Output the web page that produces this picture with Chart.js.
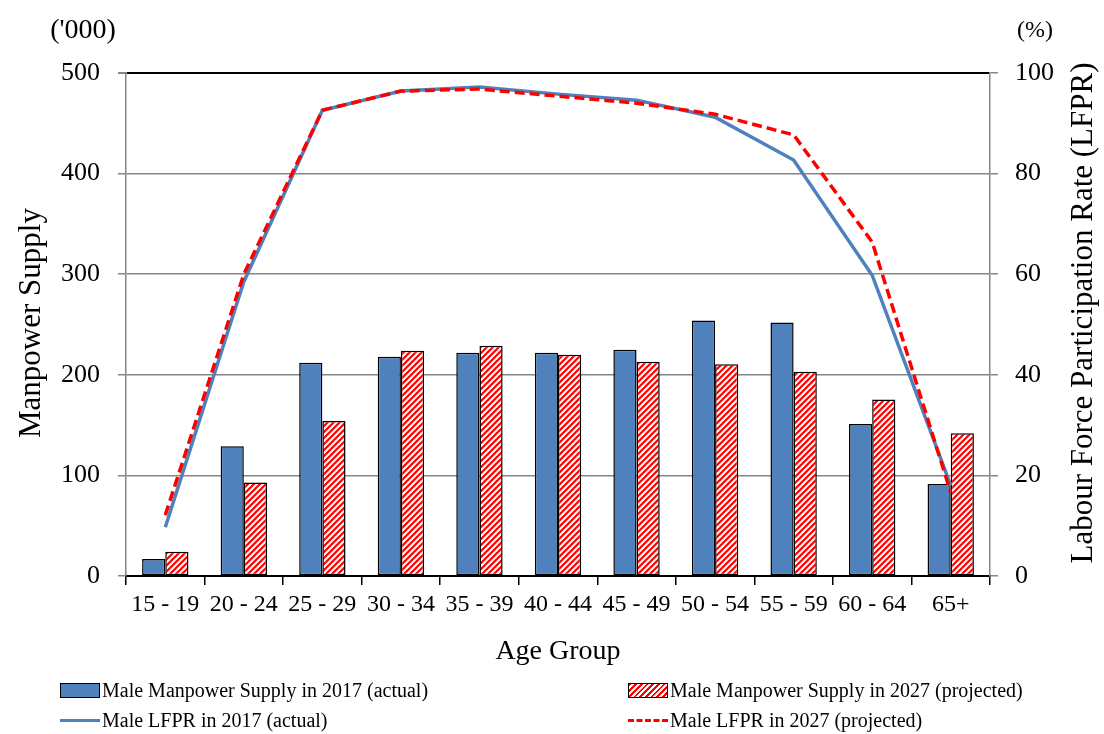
<!DOCTYPE html>
<html>
<head>
<meta charset="utf-8">
<script src="https://cdn.jsdelivr.net/npm/chart.js@4.4.1/dist/chart.umd.min.js"></script>
<style>
  body { margin: 0; background: #fff; }
  #wrap { position: relative; width: 1104px; height: 734px; }
  .leg { position: absolute; display: flex; align-items: center; font: 20px "Liberation Serif", "Times New Roman", serif; color: #000; white-space: nowrap; }
  .sym { width: 40px; margin-right: 2px; box-sizing: border-box; }
</style>
</head>
<body>
<div id="wrap">
  <canvas id="chartSupply" width="1104" height="734"></canvas>
</div>
<script>
const ageGroups = ['15 - 19', '20 - 24', '25 - 29', '30 - 34', '35 - 39', '40 - 44', '45 - 49', '50 - 54', '55 - 59', '60 - 64', '65+'];
const supply2017 = [17, 129, 212, 218, 222, 222, 225, 254, 252, 151, 91.5];
const supply2027 = [24, 93, 154, 224, 229, 220, 213, 210.5, 203, 175.5, 142];
const lfpr2017 = [9.7, 58.5, 92.6, 96.4, 97.2, 95.8, 94.6, 91.2, 82.7, 59.8, 18];
const lfpr2027 = [12.1, 60, 92.6, 96.4, 96.8, 95.4, 94, 91.8, 87.7, 66.4, 16.6];

const FONT = '"Liberation Serif", "Times New Roman", serif';
const GREY = '#868686';
const BLUE = '#4F81BD';
const RED = '#FF0000';

// red diagonal hatch for the projected bars
function makeHatch() {
  const c = document.createElement('canvas');
  c.width = 6;
  c.height = 6;
  const g = c.getContext('2d');
  g.fillStyle = '#fff';
  g.fillRect(0, 0, 6, 6);
  g.strokeStyle = RED;
  g.lineWidth = 2.2;
  g.beginPath();
  g.moveTo(-1, 7); g.lineTo(7, -1);
  g.moveTo(-4, 4); g.lineTo(4, -4);
  g.moveTo(2, 10); g.lineTo(10, 2);
  g.stroke();
  return g.createPattern(c, 'repeat');
}

const extraText = {
  id: 'extraText',
  afterDraw(chart) {
    const { ctx } = chart;
    ctx.save();
    ctx.fillStyle = '#000';
    ctx.textAlign = 'center';
    ctx.textBaseline = 'middle';
    ctx.font = '28px ' + FONT;
    ctx.fillText("('000)", 83, 31);
    ctx.font = '24px ' + FONT;
    ctx.fillText('(%)', 1035, 31);
    ctx.font = '28px ' + FONT;
    ctx.fillText('Age Group', 558, 652);
    ctx.font = '31px ' + FONT;
    ctx.translate(32, 323);
    ctx.rotate(-Math.PI / 2);
    ctx.fillText('Manpower Supply', 0, 0);
    ctx.restore();
    ctx.save();
    ctx.fillStyle = '#000';
    ctx.textAlign = 'center';
    ctx.textBaseline = 'middle';
    ctx.font = '31px ' + FONT;
    ctx.translate(1084, 313);
    ctx.rotate(-Math.PI / 2);
    ctx.fillText('Labour Force Participation Rate (LFPR)', 0, 0);
    ctx.restore();
  },
};

const ctx = document.getElementById('chartSupply').getContext('2d');
const hatch = makeHatch();

const chartSupply = new Chart(ctx, {
  type: 'bar',
  data: {
    labels: ageGroups,
    datasets: [
      {
        type: 'line',
        label: 'Male LFPR in 2027 (projected)',
        data: lfpr2027,
        yAxisID: 'y1',
        borderColor: RED,
        borderWidth: 3.5,
        borderDash: [10, 5],
        pointRadius: 0,
        tension: 0,
        order: 1,
      },
      {
        type: 'line',
        label: 'Male LFPR in 2017 (actual)',
        data: lfpr2017,
        yAxisID: 'y1',
        borderColor: BLUE,
        borderWidth: 3.5,
        pointRadius: 0,
        tension: 0,
        order: 2,
      },
      {
        label: 'Male Manpower Supply in 2017 (actual)',
        data: supply2017,
        yAxisID: 'y',
        backgroundColor: BLUE,
        borderColor: '#000',
        borderWidth: 1.5,
        borderSkipped: false,
        barPercentage: 1,
        categoryPercentage: 0.59,
        order: 3,
      },
      {
        label: 'Male Manpower Supply in 2027 (projected)',
        data: supply2027,
        yAxisID: 'y',
        backgroundColor: hatch,
        borderColor: '#000',
        borderWidth: 1.5,
        borderSkipped: false,
        barPercentage: 1,
        categoryPercentage: 0.59,
        order: 4,
      },
    ],
  },
  options: {
    responsive: false,
    animation: false,
    layout: { padding: { top: 73, left: 0, right: 0, bottom: 0 } },
    plugins: {
      legend: { display: false },
      tooltip: { enabled: false },
    },
    scales: {
      x: {
        afterFit: (s) => { s.height = 158; },
        grid: {
          offset: true,
          drawOnChartArea: false,
          tickLength: 9,
          tickColor: '#000',
          lineWidth: 1.5,
        },
        border: { color: '#000', width: 2 },
        ticks: { color: '#000', padding: 5, font: { family: FONT, size: 24 }, maxRotation: 0 },
      },
      y: {
        position: 'left',
        min: 0,
        max: 500,
        afterFit: (s) => { s.width = 126; },
        ticks: { stepSize: 100, color: '#000', padding: 18, font: { family: FONT, size: 26 } },
        grid: {
          color: (c) => (c.tick.value === 500 ? '#000' : c.tick.value === 0 ? 'rgba(0,0,0,0)' : GREY),
          lineWidth: (c) => (c.tick.value === 500 ? 2 : 1.5),
          tickColor: GREY,
          tickLength: 8,
        },
        border: { color: GREY, width: 1.5 },
      },
      y1: {
        position: 'right',
        min: 0,
        max: 100,
        afterFit: (s) => { s.width = 114; },
        ticks: { stepSize: 20, color: '#000', padding: 17, font: { family: FONT, size: 26 } },
        grid: { drawOnChartArea: false, tickColor: GREY, tickLength: 8, lineWidth: 1.5 },
        border: { color: GREY, width: 1.5 },
      },
    },
  },
  plugins: [extraText],
});

// legend laid out in two columns like the original
const legendPos = {
  'Male Manpower Supply in 2017 (actual)': [60, 690],
  'Male Manpower Supply in 2027 (projected)': [628, 690],
  'Male LFPR in 2017 (actual)': [60, 720],
  'Male LFPR in 2027 (projected)': [628, 720],
};
const wrap = document.getElementById('wrap');
chartSupply.data.datasets.forEach((ds) => {
  const [x, y] = legendPos[ds.label];
  const item = document.createElement('div');
  item.className = 'leg';
  item.style.left = x + 'px';
  item.style.top = (y - 13) + 'px';
  item.style.height = '26px';
  const sym = document.createElement('div');
  sym.className = 'sym';
  if (ds.type === 'line') {
    sym.style.height = '0';
    sym.style.borderTop = ds.borderDash ? '3.5px dashed ' + RED : '3.5px solid ' + BLUE;
  } else {
    sym.style.height = '15px';
    sym.style.border = '1.5px solid #000';
    sym.style.background = ds.backgroundColor === BLUE
      ? BLUE
      : 'repeating-linear-gradient(-45deg, #fff 0 2px, ' + RED + ' 2px 4px)';
  }
  const txt = document.createElement('span');
  txt.textContent = ds.label;
  item.appendChild(sym);
  item.appendChild(txt);
  wrap.appendChild(item);
});
</script>
</body>
</html>
